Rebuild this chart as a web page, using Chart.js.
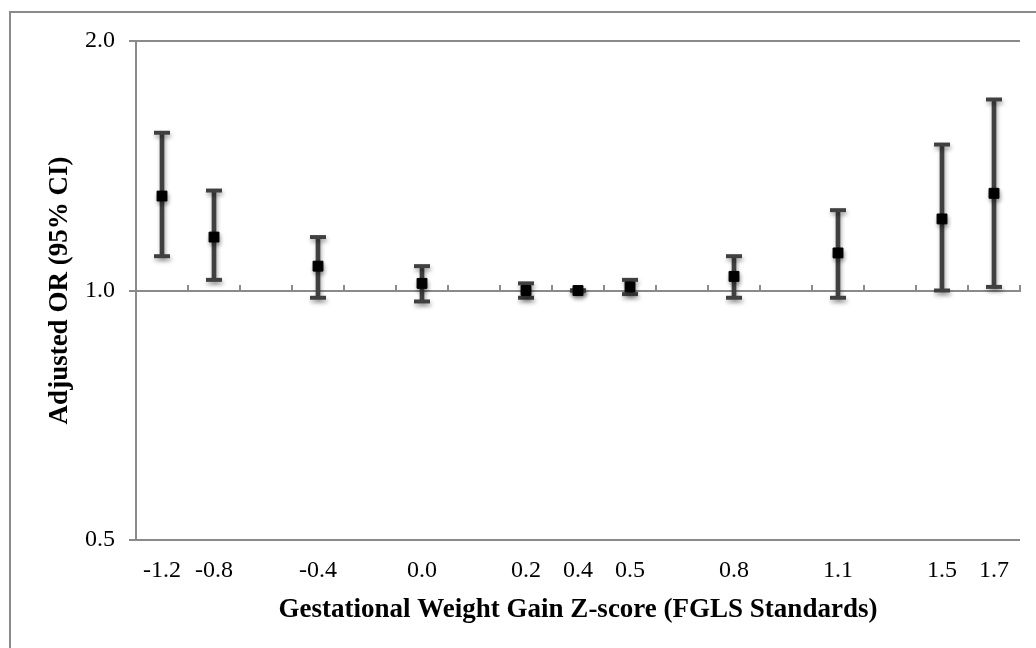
<!DOCTYPE html>
<html>
<head>
<meta charset="utf-8">
<script src="https://cdn.jsdelivr.net/npm/chart.js@4/dist/chart.umd.min.js"></script>
<style>
  html, body { margin: 0; padding: 0; background: #ffffff; overflow: hidden; }
  #wrap { position: relative; width: 1036px; height: 648px; }
  #frame {
    position: absolute; left: 9px; top: 11px; width: 2000px; height: 2000px;
    border: 2px solid #8a8a8a; pointer-events: none;
  }
  canvas { position: absolute; left: 0; top: 0; }
</style>
</head>
<body>
<div id="wrap">
  <canvas id="chart" width="1036" height="648"></canvas>
  <div id="frame"></div>
</div>
<script>
// Gestational weight gain z-score categories (blank slots keep the original spacing)
const zScores = ['-1.2', '-0.8', '', '-0.4', '', '0.0', '', '0.2', '0.4', '0.5', '', '0.8', '', '1.1', '', '1.5', '1.7'];

// Adjusted odds ratios with 95% confidence limits
const oddsRatio = [1.30, 1.16, null, 1.07, null, 1.02, null, 1.00, 1.00, 1.01, null, 1.04, null, 1.11, null, 1.22, 1.31];
const ciLower   = [1.10, 1.03, null, 0.98, null, 0.97, null, 0.98, 1.00, 0.99, null, 0.98, null, 0.98, null, 1.00, 1.01];
const ciUpper   = [1.55, 1.32, null, 1.16, null, 1.07, null, 1.02, 1.00, 1.03, null, 1.10, null, 1.25, null, 1.50, 1.70];

// Y axis tick values (log scale)
const yTicks = [0.5, 1.0, 2.0];

const barColor = '#404040';
const axisColor = '#8a8a8a';
const serif = "'Liberation Serif', 'Times New Roman', serif";

// Stems of the confidence intervals as floating bars
const ciRanges = ciLower.map((lo, i) => (lo == null ? null : [lo, ciUpper[i]]));

// Soft drop shadow under the marks
const shadowPlugin = {
  id: 'markShadow',
  beforeDatasetsDraw(chart) {
    const ctx = chart.ctx;
    ctx.save();
    ctx.shadowColor = 'rgba(0,0,0,0.35)';
    ctx.shadowBlur = 4;
    ctx.shadowOffsetX = 1;
    ctx.shadowOffsetY = 3;
  },
  afterDatasetsDraw(chart) {
    chart.ctx.restore();
  }
};

new Chart(document.getElementById('chart'), {
  data: {
    labels: zScores,
    datasets: [
      {
        type: 'line',
        label: 'Adjusted OR',
        data: oddsRatio,
        showLine: false,
        pointStyle: 'rect',
        pointRadius: 7,
        pointBorderWidth: 1,
        pointBackgroundColor: '#000000',
        pointBorderColor: '#000000'
      },
      {
        type: 'line',
        label: 'Upper 95% CI',
        data: ciUpper,
        showLine: false,
        pointStyle: 'line',
        pointRadius: 8,
        pointBorderWidth: 4,
        pointBorderColor: barColor,
        pointBackgroundColor: barColor
      },
      {
        type: 'line',
        label: 'Lower 95% CI',
        data: ciLower,
        showLine: false,
        pointStyle: 'line',
        pointRadius: 8,
        pointBorderWidth: 4,
        pointBorderColor: barColor,
        pointBackgroundColor: barColor
      },
      {
        type: 'bar',
        label: '95% CI',
        data: ciRanges,
        barThickness: 4,
        backgroundColor: barColor,
        borderWidth: 0
      }
    ]
  },
  options: {
    responsive: false,
    animation: false,
    events: [],
    layout: { padding: { left: 0, top: 41, right: 16, bottom: 0 } },
    plugins: {
      legend: { display: false },
      tooltip: { enabled: false },
      title: { display: false }
    },
    scales: {
      x: {
        type: 'category',
        position: 'bottom',
        offset: true,
        grid: { display: false, drawTicks: false },
        border: { display: false },
        ticks: {
          autoSkip: false,
          maxRotation: 0,
          padding: 16,
          color: '#000000',
          font: { family: serif, size: 24 }
        },
        title: {
          display: true,
          text: 'Gestational Weight Gain Z-score (FGLS Standards)',
          color: '#000000',
          font: { family: serif, size: 27, weight: 'bold' },
          padding: { top: 0, bottom: 22 }
        },
        afterFit(scale) { scale.height = 108; }
      },
      xRef: {
        type: 'category',
        axis: 'x',
        position: { y: 1 },
        offset: true,
        grid: {
          offset: true,
          drawOnChartArea: false,
          drawTicks: true,
          tickLength: -7,
          color: axisColor,
          lineWidth: 2
        },
        border: { display: true, color: axisColor, width: 2 },
        ticks: { display: false }
      },
      y: {
        type: 'logarithmic',
        min: 0.5,
        max: 2.0,
        afterBuildTicks(scale) { scale.ticks = yTicks.map(v => ({ value: v })); },
        grid: {
          color: axisColor,
          lineWidth: 2,
          drawTicks: true,
          tickLength: 7
        },
        border: { display: true, color: axisColor, width: 2 },
        ticks: {
          padding: 14,
          color: '#000000',
          font: { family: serif, size: 24 },
          callback: v => Number(v).toFixed(1)
        },
        title: {
          display: true,
          text: 'Adjusted OR (95% CI)',
          color: '#000000',
          font: { family: serif, size: 27, weight: 'bold' },
          padding: { top: 44, bottom: 0 }
        },
        afterFit(scale) { scale.width = 136; }
      }
    }
  },
  plugins: [shadowPlugin]
});
</script>
</body>
</html>
